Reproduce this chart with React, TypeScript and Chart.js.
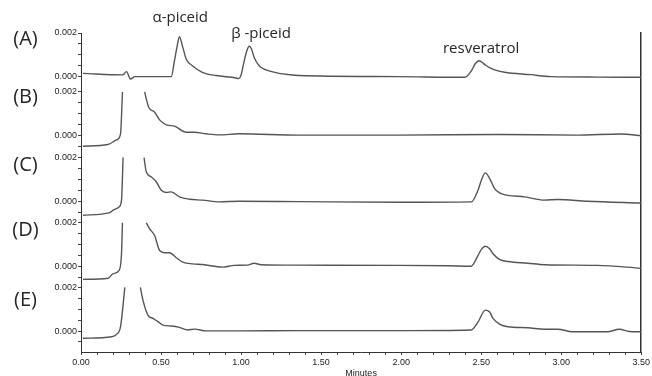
import { useEffect, useRef } from 'react';
import { Chart, registerables } from 'chart.js';

Chart.register(...registerables);

// ---- text ----
const panelNames = ['(A)', '(B)', '(C)', '(D)', '(E)'];
const peakNames = ['α-piceid', 'β -piceid', 'resveratrol'];
const xTickLabels = ['0.00', '0.50', '1.00', '1.50', '2.00', '2.50', '3.00', '3.50'];
const yTickLabels = ['0.000', '0.002'];
const xTitle = 'Minutes';

// ---- traces (time in minutes, signal in AU; null = off-scale gap) ----
const timeA = [0.012, 0.261, 0.284, 0.309, 0.336, 0.564, 0.584, 0.6, 0.615, 0.636, 0.657, 0.696, 0.758, 0.844, 0.968, 0.985, 0.999, 1.02, 1.036, 1.051, 1.065, 1.082, 1.113, 1.144, 1.186, 1.237, 1.299, 1.361, 1.983, 2.398, 2.439, 2.462, 2.487, 2.508, 2.532, 2.584, 2.646, 2.81, 2.934, 3.226, 3.5];
const signalA = [0.00015, 0.00008, 0.00023, -0.00011, 0, 0, 0.00073, 0.00137, 0.00183, 0.00134, 0.00081, 0.0005, 0.0002, 0.00005, -0.00006, -0.00009, 0.00005, 0.00073, 0.00119, 0.00139, 0.00127, 0.00088, 0.0005, 0.00035, 0.00024, 0.00015, 0.00009, 0.00005, 0, -0.00003, 0.00027, 0.00058, 0.00073, 0.00064, 0.0005, 0.00031, 0.0002, 0.00009, 0, -0.00002, -0.00003];

const timeB = [0.012, 0.168, 0.222, 0.247, 0.259, 0.33, 0.398, 0.408, 0.423, 0.46, 0.491, 0.533, 0.584, 0.657, 0.709, 0.781, 0.864, 0.988, 1.361, 1.983, 2.605, 3.1, 3.369, 3.5];
const signalB = [-0.00049, -0.00041, -0.0002, 0.00008, 0.002, null, 0.002, 0.00168, 0.0013, 0.00107, 0.00072, 0.00049, 0.00043, 0.00015, 0.00015, 0.00008, 0.00003, 0.00008, 0.00002, 0.00002, 0.00005, 0.00002, 0.00007, 0];

const timeC = [0.012, 0.18, 0.201, 0.238, 0.253, 0.263, 0.33, 0.394, 0.408, 0.44, 0.471, 0.502, 0.533, 0.564, 0.615, 0.678, 0.76, 0.864, 0.988, 1.361, 1.983, 2.439, 2.48, 2.501, 2.526, 2.553, 2.584, 2.615, 2.667, 2.771, 2.895, 2.978, 3.164, 3.5];
const signalC = [-0.00064, -0.00052, -0.00041, -0.00026, 0.00005, 0.002, null, 0.002, 0.00134, 0.00111, 0.00088, 0.0005, 0.0004, 0.00043, 0.0002, 0.00009, 0.00005, -0.00003, 0, -0.00002, -0.00005, -0.00003, 0.0005, 0.00096, 0.0013, 0.00104, 0.00058, 0.00038, 0.00027, 0.0002, 0.00005, 0.00008, 0, -0.00008];

const timeD = [0.012, 0.17, 0.201, 0.238, 0.253, 0.259, 0.33, 0.408, 0.429, 0.46, 0.491, 0.522, 0.553, 0.595, 0.636, 0.698, 0.76, 0.885, 0.957, 1.04, 1.082, 1.125, 1.361, 1.983, 2.294, 2.437, 2.48, 2.501, 2.526, 2.553, 2.574, 2.617, 2.667, 2.791, 2.897, 3.226, 3.5];
const signalD = [-0.00059, -0.00054, -0.00033, -0.00018, 0.00058, 0.002, null, 0.002, 0.00172, 0.00142, 0.00073, 0.00063, 0.00063, 0.0004, 0.0002, 0.00012, 0.00009, -0.00003, 0.00005, 0.00006, 0.00015, 0.00008, 0.00006, 0.00005, 0.00003, 0.00001, 0.0005, 0.00078, 0.00093, 0.00081, 0.00058, 0.00031, 0.00023, 0.00015, 0.00008, 0.00005, -0.00008];

const timeE = [0.012, 0.191, 0.222, 0.247, 0.274, 0.32, 0.371, 0.387, 0.418, 0.449, 0.481, 0.512, 0.564, 0.615, 0.667, 0.709, 0.781, 0.988, 1.361, 1.983, 2.437, 2.48, 2.526, 2.553, 2.574, 2.617, 2.667, 2.791, 2.897, 2.978, 3.071, 3.288, 3.363, 3.425, 3.5];
const signalE = [-0.00033, -0.00026, -0.00015, 0.0002, 0.002, null, 0.002, 0.00142, 0.00073, 0.00058, 0.00043, 0.00027, 0.00023, 0.00017, 0.00005, 0.00009, 0.00001, 0.00001, 0.00002, 0.00002, 0.00005, 0.00041, 0.00096, 0.00087, 0.00058, 0.00031, 0.0002, 0.00015, 0.00008, 0.00008, -0.00003, -0.00003, 0.00008, -0.00002, -0.00003];

const traceTimes = [timeA, timeB, timeC, timeD, timeE];
const traceSignals = [signalA, signalB, signalC, signalD, signalE];

// ---- layout of the stacked panels (vertical offset of each panel's 0.000) ----
const panelOffsets = [0.01166, 0.00896, 0.00595, 0.00296, 0];
const Y_MIN = -0.00096;
const Y_MAX = 0.01366;
const FONT = '"Liberation Sans", Arial, sans-serif';

type YTick = { value: number; label: string };
function buildYTicks(): YTick[] {
  const list: YTick[] = [];
  panelOffsets.forEach((off, p) => {
    const kmin = p === 0 ? 0 : -2;
    for (let k = kmin; k <= 4; k++) {
      const v = off + k * 0.0005;
      if (v < Y_MIN - 1e-9) continue;
      const label = k === 0 ? yTickLabels[0] : k === 4 ? yTickLabels[1] : '';
      const ex = list.find((t) => Math.abs(t.value - v) < 0.0002);
      if (ex) {
        if (label) { ex.value = v; ex.label = label; }
      } else list.push({ value: v, label });
    }
  });
  return list.sort((a, b) => a.value - b.value);
}

const labelPlugin = {
  id: 'panelLabels',
  afterDraw(chart: any) {
    const { ctx, scales } = chart;
    const x = scales.x;
    ctx.save();
    ctx.fillStyle = '#262626';
    ctx.textAlign = 'center';
    ctx.textBaseline = 'alphabetic';
    ctx.font = '20px "Open Sans"';
    const panelBaselines = [45, 103, 171, 236, 306];
    panelNames.forEach((n, i) => ctx.fillText(n, 25.5, panelBaselines[i]));
    ctx.font = '15px "Open Sans"';
    const peakAnchors = [
      [0.62, 21.5],
      [1.125, 38],
      [2.5, 53],
    ];
    peakNames.forEach((n, i) => ctx.fillText(n, x.getPixelForValue(peakAnchors[i][0]), peakAnchors[i][1]));
    ctx.restore();
  },
};

export default function App() {
  const ref = useRef<HTMLCanvasElement | null>(null);
  useEffect(() => {
    if (!ref.current) return;
    const yTicks = buildYTicks();
    const datasets = traceTimes.map((times, p) => ({
      label: panelNames[p],
      data: times.map((t, i) => ({
        x: t,
        y: traceSignals[p][i] === null ? null : (traceSignals[p][i] as number) + panelOffsets[p],
      })),
      borderColor: '#555555',
      borderWidth: 1.4,
      pointRadius: 0,
      cubicInterpolationMode: 'monotone' as const,
      spanGaps: false,
      fill: false,
    }));
    const chart = new Chart(ref.current, {
      type: 'line',
      data: { datasets },
      options: {
        animation: false,
        responsive: false,
        devicePixelRatio: 1,
        layout: { padding: { left: 0, top: 33, right: 8, bottom: 0 } },
        plugins: { legend: { display: false }, tooltip: { enabled: false } },
        scales: {
          x: {
            type: 'linear',
            min: 0,
            max: 3.5,
            afterBuildTicks: (s: any) => {
              s.ticks = Array.from({ length: 36 }, (_, i) => ({ value: i / 10 }));
            },
            afterFit: (s: any) => { s.height = 24; },
            ticks: {
              autoSkip: false,
              maxRotation: 0,
              padding: 2,
              color: '#222',
              font: { family: FONT, size: 9 },
              callback: (v: any) => {
                const i = Math.round(Number(v) * 10);
                return i % 5 === 0 ? xTickLabels[i / 5] : '';
              },
            },
            grid: { drawOnChartArea: false, drawTicks: true, tickLength: 3, color: '#444' },
            border: { display: true, color: '#333', width: 1 },
            title: {
              display: true,
              text: xTitle,
              color: '#222',
              font: { family: FONT, size: 9 },
              padding: { top: 0, bottom: -3 },
            },
          },
          y: {
            type: 'linear',
            min: Y_MIN,
            max: Y_MAX,
            afterBuildTicks: (s: any) => {
              s.ticks = yTicks.map((t) => ({ value: t.value }));
            },
            afterFit: (s: any) => { s.width = 81; },
            ticks: {
              autoSkip: false,
              padding: 1,
              color: '#222',
              font: { family: FONT, size: 9 },
              callback: (v: any) => {
                const t = yTicks.find((q) => Math.abs(q.value - Number(v)) < 1e-9);
                return t ? t.label : '';
              },
            },
            grid: { drawOnChartArea: false, drawTicks: true, tickLength: 3, color: '#444' },
            border: { display: true, color: '#333', width: 1 },
          },
          y2: {
            type: 'linear',
            position: 'right',
            min: Y_MIN,
            max: Y_MAX,
            afterFit: (s: any) => { s.width = 0; },
            ticks: { display: false },
            grid: { display: false, drawTicks: false },
            border: { display: true, color: '#333', width: 1.5 },
          },
        },
      },
      plugins: [labelPlugin],
    });
    return () => chart.destroy();
  }, []);
  return (
    <div style={{ position: 'absolute', left: 0, top: 0, width: 652, height: 376, background: '#fff' }}>
      <canvas ref={ref} width={652} height={376} style={{ width: 652, height: 376 }} />
    </div>
  );
}
